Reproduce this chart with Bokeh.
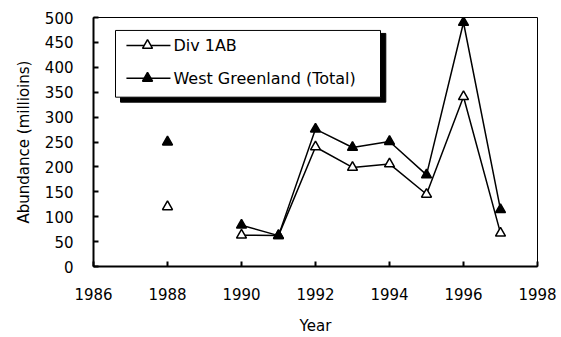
import math
from bokeh.plotting import figure
from bokeh.models import SingleIntervalTicker, ColumnDataSource
from bokeh.core.properties import value
from bokeh.embed import file_html
from bokeh.resources import INLINE

nan = float("nan")
years = [1988, 1989, 1990, 1991, 1992, 1993, 1994, 1995, 1996, 1997]
div1ab = [120, nan, 63, 62, 240, 199, 206, 145, 341, 67]
west_greenland = [250, nan, 83, 62, 276, 239, 251, 184, 490, 114]
series_names = ["Div 1AB", "West Greenland (Total)"]

FONT = "DejaVu Sans"

p = figure(width=561, height=337, x_range=(1986, 1998), y_range=(0, 500),
           output_backend="svg", toolbar_location=None,
           min_border_left=93, min_border_right=24, min_border_top=17, min_border_bottom=70)
p.grid.visible = False
p.outline_line_color = "black"
p.outline_line_width = 1
p.background_fill_color = "white"
p.border_fill_color = "white"

p.xaxis.ticker = SingleIntervalTicker(interval=2)
p.yaxis.ticker = SingleIntervalTicker(interval=50)
for ax in (p.xaxis[0], p.yaxis[0]):
    ax.axis_line_width = 2
    ax.axis_line_color = "black"
    ax.major_tick_in = 5
    ax.major_tick_out = 0
    ax.major_tick_line_width = 2
    ax.minor_tick_line_color = None
    ax.major_label_text_font = FONT
    ax.major_label_text_font_size = "15px"
    ax.major_label_text_color = "black"
    ax.axis_label_text_font = FONT
    ax.axis_label_text_font_size = "15px"
    ax.axis_label_text_font_style = "normal"
    ax.axis_label_text_color = "black"
p.xaxis.axis_label = "Year"
p.yaxis.axis_label = "Abundance (millioins)"
p.xaxis.major_label_standoff = 17
p.yaxis.major_label_standoff = 16
p.xaxis.axis_label_standoff = 14
p.yaxis.axis_label_standoff = 9

src = ColumnDataSource(dict(x=years, a=div1ab, b=west_greenland))
p.line("x", "a", source=src, line_color="black", line_width=1.5)
p.line("x", "b", source=src, line_color="black", line_width=1.5)
p.scatter("x", "a", source=src, marker="triangle", size=10,
          fill_color="white", line_color="black", line_width=1.5)
p.scatter("x", "b", source=src, marker="triangle", size=10,
          fill_color="black", line_color="black", line_width=1.5)

# legend with drop shadow (layout positions in data units)
p.quad(left=[1986.73], right=[1993.9], top=[468], bottom=[330],
       fill_color="black", line_color="black")
p.quad(left=[1986.595], right=[1993.757], top=[474], bottom=[340],
       fill_color="white", line_color="black", line_width=1)
rows_y = [444, 378]
fills = ["white", "black"]
for yy, fc in zip(rows_y, fills):
    p.line([1986.89, 1988.08], [yy, yy], line_color="black", line_width=1.5)
    p.scatter([1987.46], [yy], marker="triangle", size=10,
              fill_color=fc, line_color="black", line_width=1.5)
p.text(x=[1988.16, 1988.16], y=rows_y, text=series_names,
       text_font=value(FONT), text_font_size="16px", text_baseline="middle",
       text_align="left", text_color="black")

open("out.html", "w").write(file_html(p, INLINE))
